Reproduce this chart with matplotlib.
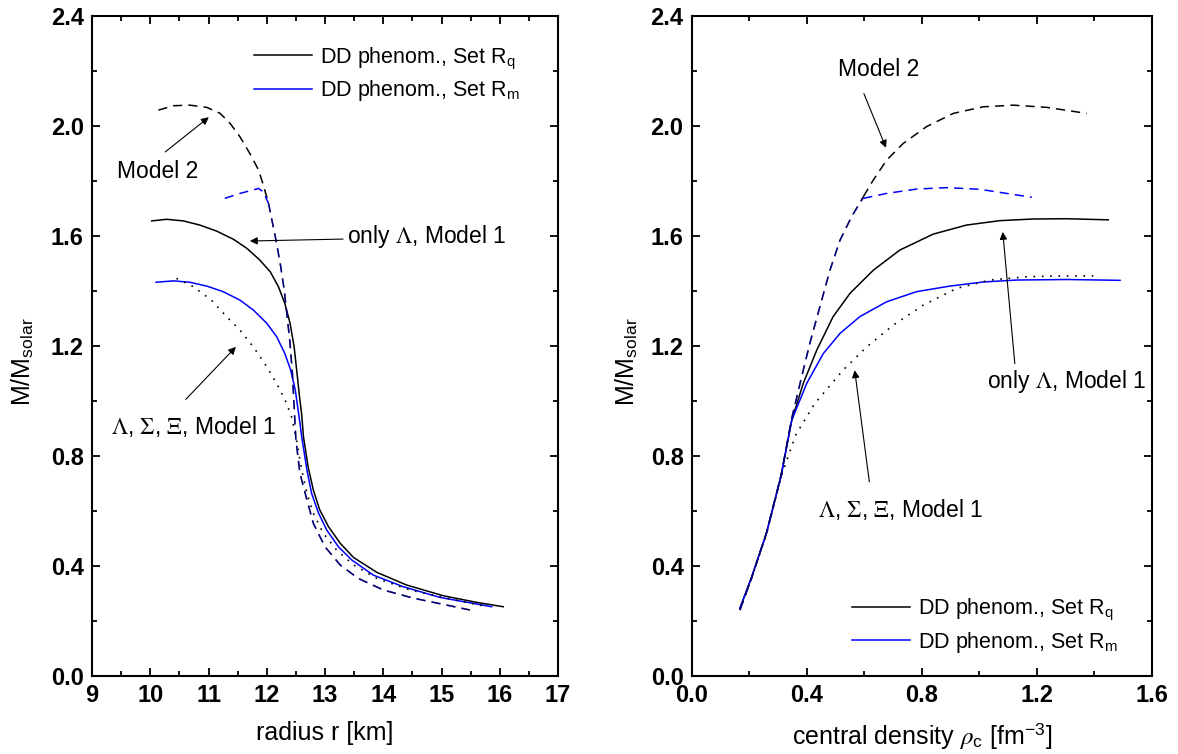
import matplotlib
matplotlib.use('Agg')
import matplotlib.pyplot as plt
from matplotlib.ticker import MultipleLocator, FormatStrFormatter

plt.rcParams['font.family'] = ['Liberation Sans', 'DejaVu Sans']
plt.rcParams['mathtext.fontset'] = 'stix'

# left panel: mass vs radius
r_q = [10.025, 10.28, 10.57, 10.85, 11.14, 11.43, 11.66, 11.88, 12.06, 12.20, 12.31, 12.40,
       12.47, 12.52, 12.56, 12.60, 12.63, 12.71, 12.80, 12.91, 13.06, 13.26, 13.49, 13.89,
       14.40, 15.03, 15.60, 16.06]
m_r_q = [1.655, 1.661, 1.655, 1.64, 1.618, 1.588, 1.555, 1.513, 1.47, 1.416, 1.355, 1.283,
         1.197, 1.10, 1.02, 0.95, 0.87, 0.761, 0.676, 0.604, 0.543, 0.483, 0.431, 0.377,
         0.331, 0.292, 0.268, 0.252]
r_m = [10.10, 10.40, 10.68, 10.97, 11.25, 11.54, 11.77, 12.0, 12.17, 12.31, 12.41, 12.49,
       12.53, 12.57, 12.60, 12.69, 12.77, 12.89, 13.03, 13.23, 13.46, 13.83, 14.34, 14.97,
       15.55, 15.86]
m_r_m = [1.432, 1.437, 1.432, 1.418, 1.398, 1.367, 1.331, 1.283, 1.234, 1.173, 1.113, 1.04,
         0.98, 0.92, 0.87, 0.749, 0.664, 0.592, 0.531, 0.47, 0.422, 0.367, 0.325, 0.286,
         0.264, 0.252]
r_hyp = [10.45, 10.74, 11.05, 11.31, 11.54, 11.77, 12.0, 12.20, 12.34, 12.43, 12.51, 12.60,
         12.69, 12.80, 12.97, 13.20, 13.49, 13.89, 14.46, 15.09, 15.72]
m_r_hyp = [1.446, 1.416, 1.367, 1.307, 1.258, 1.197, 1.125, 1.052, 0.992, 0.94, 0.858, 0.749,
           0.664, 0.592, 0.519, 0.458, 0.404, 0.355, 0.313, 0.283, 0.255]
r_m2q = [10.14, 10.40, 10.68, 10.97, 11.20, 11.37, 11.54, 11.71, 11.86, 11.95, 12.03, 12.10,
         12.17, 12.24, 12.30, 12.35, 12.40, 12.44, 12.47, 12.50, 12.57, 12.69, 12.80, 13.0,
         13.26, 13.57, 14.0, 14.52, 15.09, 15.49]
m_r_m2q = [2.058, 2.074, 2.076, 2.068, 2.046, 2.01, 1.961, 1.90, 1.84, 1.779, 1.719, 1.646,
           1.573, 1.488, 1.404, 1.307, 1.21, 1.10, 0.979, 0.86, 0.737, 0.64, 0.555, 0.47,
           0.404, 0.355, 0.313, 0.283, 0.258, 0.24]
r_m2m = [11.28, 11.54, 11.86, 11.94, 12.03, 12.10, 12.17, 12.24, 12.30, 12.35, 12.40, 12.44,
         12.47, 12.50, 12.57, 12.69, 12.80, 13.0, 13.26, 13.57, 14.0, 14.52, 15.09, 15.45]
m_r_m2m = [1.737, 1.755, 1.773, 1.761, 1.719, 1.646, 1.573, 1.488, 1.404, 1.307, 1.21, 1.10,
           0.979, 0.86, 0.737, 0.64, 0.555, 0.47, 0.404, 0.355, 0.313, 0.283, 0.258, 0.242]

# right panel: mass vs central density
rho_q = [0.167, 0.207, 0.259, 0.31, 0.347, 0.387, 0.434, 0.491, 0.55, 0.631, 0.723, 0.839,
         0.955, 1.071, 1.187, 1.303, 1.448]
m_rho_q = [0.247, 0.358, 0.519, 0.728, 0.93, 1.064, 1.185, 1.307, 1.392, 1.476, 1.549, 1.607,
           1.64, 1.656, 1.662, 1.663, 1.659]
rho_m = [0.167, 0.207, 0.259, 0.31, 0.347, 0.399, 0.457, 0.515, 0.584, 0.677, 0.782, 0.897,
         1.013, 1.129, 1.303, 1.489]
m_rho_m = [0.247, 0.358, 0.519, 0.728, 0.93, 1.064, 1.173, 1.246, 1.307, 1.361, 1.398, 1.418,
           1.433, 1.44, 1.442, 1.439]
rho_hyp = [0.167, 0.207, 0.259, 0.31, 0.361, 0.425, 0.457, 0.526, 0.608, 0.70, 0.805, 0.921,
           1.037, 1.164, 1.28, 1.396]
m_rho_hyp = [0.24, 0.355, 0.515, 0.725, 0.877, 0.988, 1.028, 1.113, 1.197, 1.276, 1.349, 1.41,
             1.44, 1.452, 1.455, 1.455]
rho_m2q = [0.167, 0.207, 0.259, 0.31, 0.347, 0.376, 0.41, 0.445, 0.48, 0.515, 0.555, 0.596,
           0.631, 0.677, 0.735, 0.816, 0.909, 1.013, 1.118, 1.234, 1.373]
m_rho_m2q = [0.24, 0.355, 0.52, 0.73, 0.937, 1.064, 1.21, 1.343, 1.476, 1.585, 1.67, 1.743,
             1.804, 1.876, 1.937, 1.998, 2.046, 2.07, 2.076, 2.068, 2.046]
rho_m2m = [0.167, 0.207, 0.259, 0.31, 0.347, 0.376, 0.41, 0.445, 0.48, 0.515, 0.555, 0.596,
           0.677, 0.782, 0.886, 1.002, 1.095, 1.182]
m_rho_m2m = [0.24, 0.355, 0.52, 0.73, 0.937, 1.064, 1.21, 1.343, 1.476, 1.585, 1.67, 1.737,
             1.755, 1.771, 1.776, 1.77, 1.755, 1.741]

lab_q = 'DD phenom., Set R$_\\mathregular{q}$'
lab_m = 'DD phenom., Set R$_\\mathregular{m}$'
hyp_txt = '$\\Lambda$, $\\Sigma$, $\\Xi$, Model 1'
lam_txt = 'only $\\Lambda$, Model 1'

fig = plt.figure(figsize=(11.78, 7.54), dpi=100)
ax1 = fig.add_axes([0.0781, 0.1034, 0.3956, 0.8753])
ax2 = fig.add_axes([0.5874, 0.1034, 0.3905, 0.8753])

lw = 1.1
dash = (0, (6, 4))
dot = (0, (1, 4))
blue = '#0000ff'

# solid and dotted curves
ax1.plot(r_q, m_r_q, color='k', lw=lw, label=lab_q)
ax1.plot(r_m, m_r_m, color=blue, lw=lw, label=lab_m)
ax1.plot(r_hyp, m_r_hyp, color='k', lw=1.2, linestyle=dot)
ax2.plot(rho_q, m_rho_q, color='k', lw=lw, label=lab_q)
ax2.plot(rho_m, m_rho_m, color=blue, lw=lw, label=lab_m)
ax2.plot(rho_hyp, m_rho_hyp, color='k', lw=1.2, linestyle=dot)

# Model 2 dashed curves: the two sets share one branch, drawn with the same dash phase
jq, jm = 10, 4   # left: index where the blue branch joins the black one
ax1.plot(r_m2q[:jq + 1], m_r_m2q[:jq + 1], color='k', lw=lw, linestyle=dash)
ax1.plot(r_m2m[:jm + 1], m_r_m2m[:jm + 1], color=blue, lw=lw, linestyle=dash)
ax1.plot(r_m2q[jq:], m_r_m2q[jq:], color='k', lw=lw, linestyle=dash)
ax1.plot(r_m2m[jm:], m_r_m2m[jm:], color=blue, lw=lw, linestyle=dash, alpha=0.5)

js = 11  # right: shared low-density part
ax2.plot(rho_m2q[js:], m_rho_m2q[js:], color='k', lw=lw, linestyle=dash)
ax2.plot(rho_m2m[js:], m_rho_m2m[js:], color=blue, lw=lw, linestyle=dash)
ax2.plot(rho_m2q[:js + 1], m_rho_m2q[:js + 1], color='k', lw=lw, linestyle=dash)
ax2.plot(rho_m2m[:js + 1], m_rho_m2m[:js + 1], color=blue, lw=lw, linestyle=dash, alpha=0.5)

arw = dict(arrowstyle='-|>', color='k', lw=0.8, mutation_scale=11, shrinkA=0, shrinkB=0)
fs_ann = 16.5

# left annotations
ax1.annotate('', xy=(11.005, 2.032), xytext=(10.258, 1.906), arrowprops=arw)
ax1.text(10.12, 1.833, 'Model 2', fontsize=fs_ann, ha='center', va='center')
ax1.annotate('', xy=(11.71, 1.582), xytext=(13.31, 1.589), arrowprops=arw)
ax1.text(13.38, 1.60, lam_txt, fontsize=fs_ann, ha='left', va='center')
ax1.annotate('', xy=(11.47, 1.197), xytext=(10.61, 1.006), arrowprops=arw)
ax1.text(9.33, 0.906, hyp_txt, fontsize=fs_ann, ha='left', va='center')

# right annotations
ax2.text(0.648, 2.204, 'Model 2', fontsize=fs_ann, ha='center', va='center')
ax2.annotate('', xy=(0.675, 1.921), xytext=(0.598, 2.118), arrowprops=arw)
ax2.text(1.025, 1.07, lam_txt, fontsize=fs_ann, ha='left', va='center')
ax2.annotate('', xy=(1.081, 1.615), xytext=(1.123, 1.136), arrowprops=arw)
ax2.text(0.438, 0.605, hyp_txt, fontsize=fs_ann, ha='left', va='center')
ax2.annotate('', xy=(0.566, 1.112), xytext=(0.617, 0.706), arrowprops=arw)

ax1.set_xlim(9, 17)
ax2.set_xlim(0, 1.6)
ax1.xaxis.set_major_locator(MultipleLocator(1))
ax1.xaxis.set_minor_locator(MultipleLocator(0.5))
ax2.xaxis.set_major_locator(MultipleLocator(0.4))
ax2.xaxis.set_minor_locator(MultipleLocator(0.2))
ax2.xaxis.set_major_formatter(FormatStrFormatter('%.1f'))
ax1.set_xlabel('radius r [km]', fontsize=18, labelpad=10)
ax2.set_xlabel('central density $\\rho_\\mathregular{c}$ [fm$^\\mathregular{-3}$]', fontsize=18, labelpad=10)

for ax in (ax1, ax2):
    ax.set_ylim(0, 2.4)
    ax.yaxis.set_major_locator(MultipleLocator(0.4))
    ax.yaxis.set_minor_locator(MultipleLocator(0.2))
    ax.yaxis.set_major_formatter(FormatStrFormatter('%.1f'))
    ax.set_ylabel('M/M$_\\mathregular{solar}$', fontsize=18)
    ax.tick_params(which='both', direction='in', top=True, right=True, width=1.3)
    ax.tick_params(which='major', length=6, labelsize=17, pad=6)
    ax.tick_params(which='minor', length=3.5)
    for lbl in ax.get_xticklabels() + ax.get_yticklabels():
        lbl.set_fontweight('bold')
    for s in ax.spines.values():
        s.set_linewidth(1.5)

ax1.yaxis.set_label_coords(-0.12, 0.476)
ax2.yaxis.set_label_coords(-0.113, 0.476)

leg_kw = dict(frameon=False, fontsize=15.5, handlelength=2.7, handletextpad=0.37,
              labelspacing=0.35, borderpad=0, borderaxespad=0, loc='upper left')
ax1.legend(bbox_to_anchor=(0.348, 0.956), **leg_kw)
ax2.legend(bbox_to_anchor=(0.348, 0.12), **leg_kw)

fig.savefig('out.png', dpi=100)
